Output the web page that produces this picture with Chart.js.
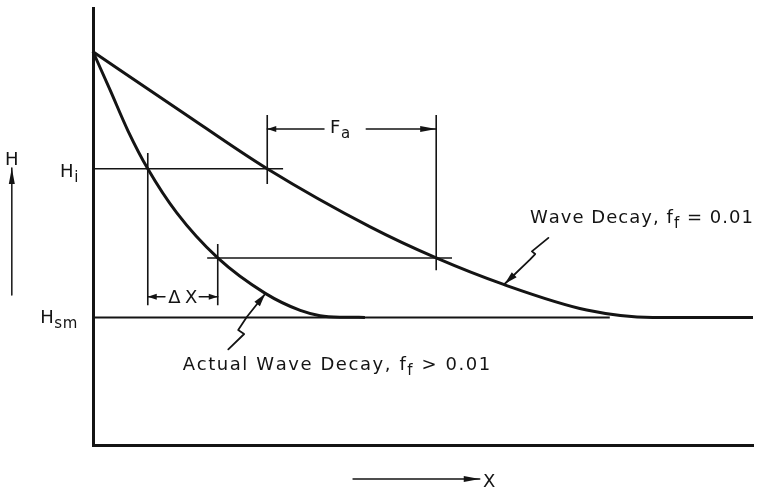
<!DOCTYPE html>
<html>
<head>
<meta charset="utf-8">
<title>Wave decay over distance</title>
<script src="https://cdn.jsdelivr.net/npm/chart.js@4.4.1/dist/chart.umd.min.js"></script>
<style>
  html, body { margin: 0; padding: 0; background: #fff; }
  canvas { display: block; }
</style>
</head>
<body>
<canvas id="decay" width="763" height="489"></canvas>
<script>
// Schematic units: X runs 0..100 across the plot, H runs 0..100 up the plot.

// Wave decay, f_f = 0.01
const waveX = [0, 13.2, 26.4, 42.0, 52.0, 62.1, 74.8, 84.8, 100];
const waveH = [90, 76.5, 63.2, 49.9, 42.8, 36.8, 30.9, 29.2, 29.2];

// Actual wave decay, f_f > 0.01
const actualX = [0, 2.6, 5.3, 8.3, 12.7, 18.9, 26.1, 31.4, 34.4, 37.4, 41.2];
const actualH = [90, 81.2, 71.9, 63.2, 53.1, 42.8, 34.7, 30.8, 29.6, 29.25, 29.2];

// horizontal reference levels (H_i, intermediate, H_sm)
const levelH = [63.2, 42.8, 29.2];
const levelFrom = [0, 17.3, 0];
const levelTo = [28.8, 54.4, 78.3];

// vertical construction ticks
const tickX = [8.3, 18.9, 26.4, 52.0];
const tickTop = [66.8, 46.0, 75.5, 75.5];
const tickBottom = [32.0, 32.0, 59.7, 40.0];

// leader lines from the captions to the curves (last point = arrow tip)
const waveLeaderX = [69.0, 66.5, 67.0, 66.2, 62.4];
const waveLeaderH = [47.4, 44.3, 43.7, 42.4, 36.9];
const actualLeaderX = [20.5, 22.9, 22.0, 23.3, 26.1];
const actualLeaderH = [21.9, 25.4, 26.3, 29.3, 34.6];

const INK = '#141414';
const FONT = '"DejaVu Sans", sans-serif';

const pts = (xs, ys) => xs.map((x, i) => ({ x, y: ys[i] }));

function lineSet(data, width, smooth) {
  return {
    data, showLine: true, pointRadius: 0, borderColor: INK, borderWidth: width,
    cubicInterpolationMode: smooth ? 'monotone' : 'default', tension: 0, clip: false,
  };
}

const datasets = [
  lineSet(pts(waveX, waveH), 3, true),
  lineSet(pts(actualX, actualH), 3, true),
];
levelH.forEach((h, i) => {
  datasets.push(lineSet([{ x: levelFrom[i], y: h }, { x: levelTo[i], y: h }], i === 2 ? 2 : 1.6));
});
tickX.forEach((x, i) => {
  datasets.push(lineSet([{ x, y: tickTop[i] }, { x, y: tickBottom[i] }], 1.6));
});

// text pieces: [text, isSubscript]
const notes = [
  { x: -12.3, y: 64.1, align: 'center', parts: [['H', 0]] },
  { x: -5.0, y: 61.3, parts: [['H', 0], ['i', 1]] },
  { x: -8.0, y: 27.9, parts: [['H', 0], ['sm', 1]] },
  { x: 35.9, y: 71.4, parts: [['F', 0], ['a', 1]] },
  { x: 11.4, y: 32.5, to: 15.8, parts: [['ΔX', 0]] },
  { x: 59.1, y: -9.6, parts: [['X', 0]] },
  { x: 66.2, y: 50.8, to: 100, parts: [['Wave Decay, f', 0], ['f', 1], [' = 0.01', 0]] },
  { x: 13.6, y: 17.2, to: 60.2, parts: [['Actual Wave Decay, f', 0], ['f', 1], [' > 0.01', 0]] },
];

// arrows: from (x1,y1) to tip (x2,y2)
const arrows = [
  [-12.3, 34.3, -12.3, 63.4],
  [39.4, -7.8, 58.6, -7.8],
  [35.0, 72.3, 26.4, 72.3],
  [41.4, 72.3, 52.0, 72.3],
  [10.9, 33.9, 8.3, 33.9],
  [16.1, 33.9, 18.9, 33.9],
];

function arrowHead(ctx, x1, y1, x2, y2, len, half) {
  const a = Math.atan2(y2 - y1, x2 - x1);
  const bx = x2 - len * Math.cos(a), by = y2 - len * Math.sin(a);
  ctx.beginPath();
  ctx.moveTo(x2, y2);
  ctx.lineTo(bx + half * Math.sin(a), by - half * Math.cos(a));
  ctx.lineTo(bx - half * Math.sin(a), by + half * Math.cos(a));
  ctx.closePath();
  ctx.fill();
}

function partFont(sub) { return (sub ? 15 : 18) + 'px ' + FONT; }

function drawNote(ctx, n, sx, sy) {
  const chars = [];
  n.parts.forEach(([t, sub]) => [...t].forEach(c => chars.push([c, sub])));
  let natural = 0;
  chars.forEach(([c, sub]) => { ctx.font = partFont(sub); natural += ctx.measureText(c).width; });
  let x = sx(n.x);
  const y = sy(n.y);
  let gap = 0.6;
  if (n.to != null) gap = (sx(n.to) - x - natural) / (chars.length - 1);
  if (n.align === 'center') x -= natural / 2;
  chars.forEach(([c, sub]) => {
    ctx.font = partFont(sub);
    ctx.fillText(c, x, y + (sub ? 5 : 0));
    x += ctx.measureText(c).width + gap;
  });
}

const annotate = {
  id: 'annotate',
  afterDatasetsDraw(chart) {
    const { ctx, scales: { x: xs, y: ys } } = chart;
    const sx = v => xs.getPixelForValue(v);
    const sy = v => ys.getPixelForValue(v);
    ctx.save();
    ctx.strokeStyle = INK;
    ctx.fillStyle = INK;
    ctx.lineCap = 'round';
    ctx.lineJoin = 'round';

    // dimension arrows
    ctx.lineWidth = 1.5;
    arrows.forEach(([x1, y1, x2, y2]) => {
      const long = Math.abs(sx(x2) - sx(x1)) + Math.abs(sy(y2) - sy(y1)) > 60;
      const a = [sx(x1), sy(y1), sx(x2), sy(y2)];
      ctx.beginPath();
      ctx.moveTo(a[0], a[1]);
      ctx.lineTo(a[2], a[3]);
      ctx.stroke();
      arrowHead(ctx, a[0], a[1], a[2], a[3], long ? 16 : 9, 3);
    });

    // caption leaders
    ctx.lineWidth = 1.8;
    [[waveLeaderX, waveLeaderH], [actualLeaderX, actualLeaderH]].forEach(([lx, lh]) => {
      ctx.beginPath();
      lx.forEach((v, i) => (i ? ctx.lineTo(sx(v), sy(lh[i])) : ctx.moveTo(sx(v), sy(lh[i]))));
      ctx.stroke();
      const n = lx.length - 1;
      arrowHead(ctx, sx(lx[n - 1]), sy(lh[n - 1]), sx(lx[n]), sy(lh[n]), 13, 3.5);
    });

    ctx.textBaseline = 'alphabetic';
    ctx.textAlign = 'left';
    notes.forEach(n => drawNote(ctx, n, sx, sy));
    ctx.restore();
  }
};

const axisOpts = {
  type: 'linear', min: 0, max: 100,
  grid: { display: false },
  ticks: { display: false },
  border: { display: true, color: INK, width: 3 },
};

new Chart(document.getElementById('decay'), {
  type: 'scatter',
  data: { datasets },
  options: {
    responsive: false,
    animation: false,
    devicePixelRatio: 1,
    layout: { padding: { left: 85, right: 10, top: 8, bottom: 36 } },
    plugins: { legend: { display: false }, tooltip: { enabled: false } },
    scales: { x: axisOpts, y: axisOpts },
  },
  plugins: [annotate],
});
</script>
</body>
</html>
